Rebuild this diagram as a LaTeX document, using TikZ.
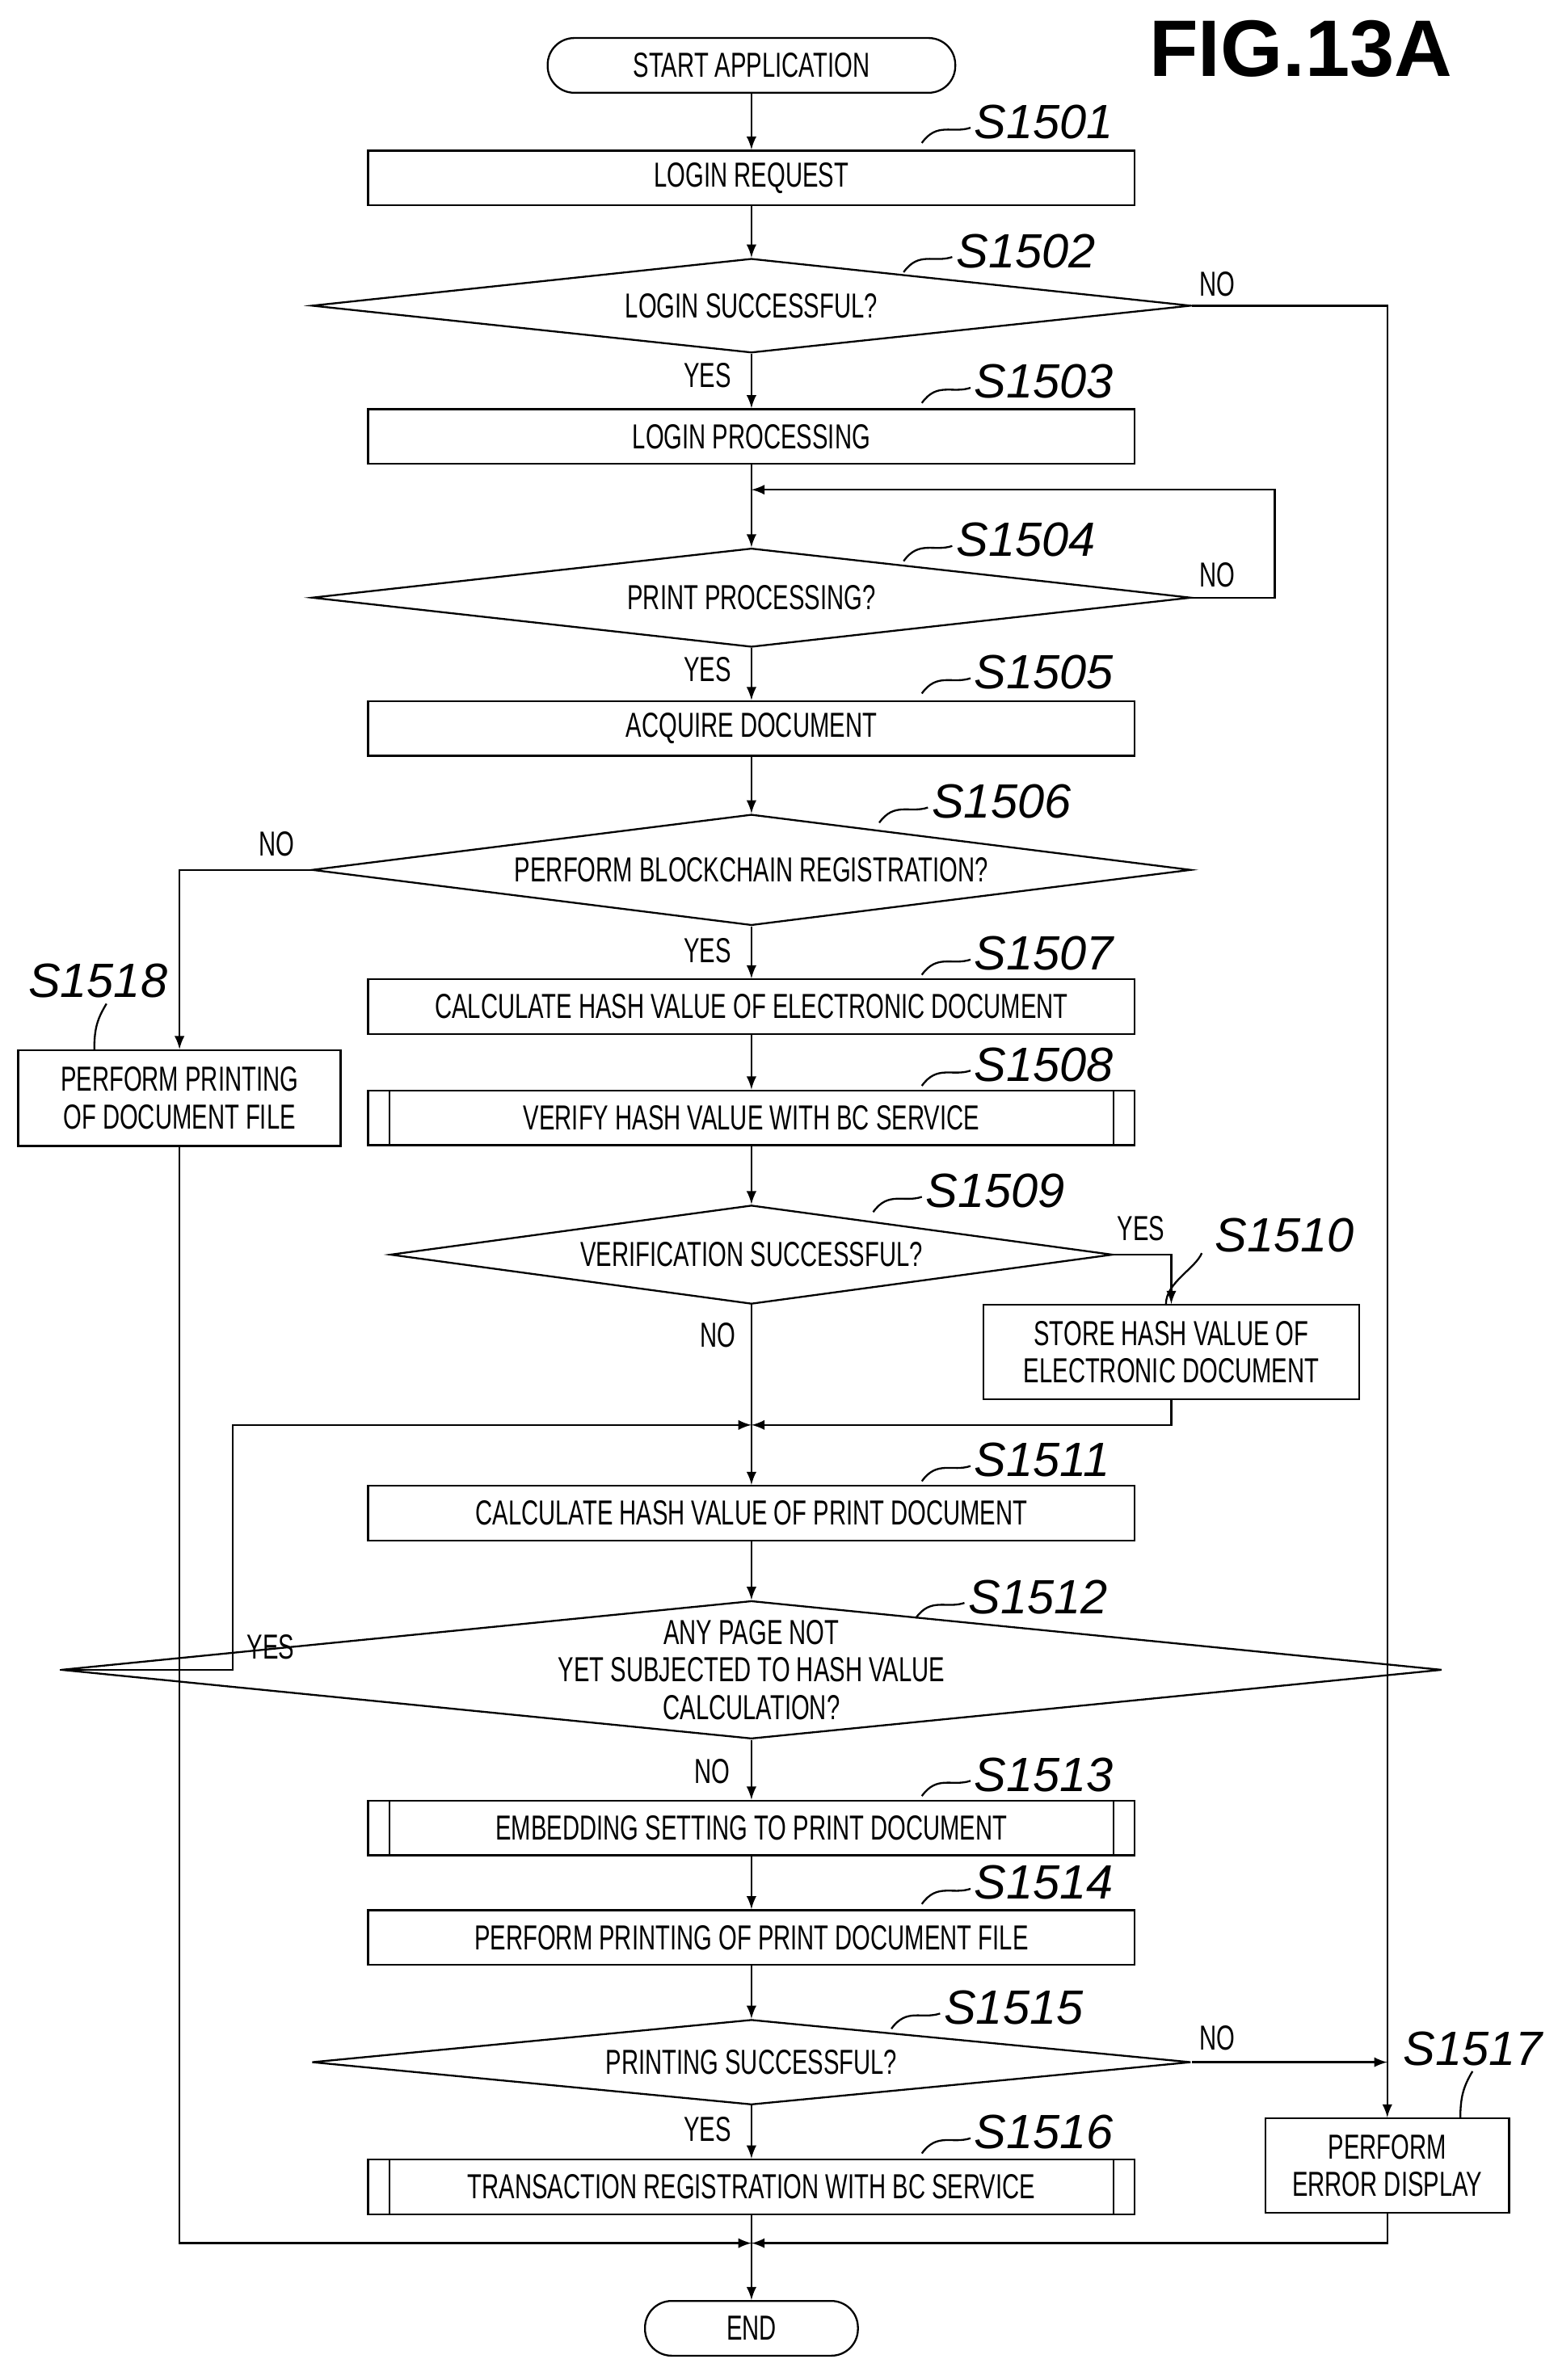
\documentclass[tikz,border=0pt]{standalone}
\usepackage{fontspec}
\setmainfont{Liberation Sans}[FakeStretch=0.68]
\newfontfamily\lblfont{Liberation Sans}
\usetikzlibrary{shapes.geometric}

\tikzstyle{every node} = [font=\fontsize{13}{14}\selectfont]
\tikzstyle{term}  = [draw,rounded corners=0.35cm,minimum height=0.72cm,inner sep=0]
\tikzstyle{box}   = [draw,minimum width=10.08cm,minimum height=0.72cm,inner sep=0,align=center]
\tikzstyle{pbox}  = [box,path picture={
                      \draw ([xshift=0.28cm]path picture bounding box.north west) -- ([xshift=0.28cm]path picture bounding box.south west);
                      \draw ([xshift=-0.28cm]path picture bounding box.north east) -- ([xshift=-0.28cm]path picture bounding box.south east);}]
\tikzstyle{dec}   = [draw,diamond,aspect=10,inner sep=0,align=center]
\tikzstyle{lbl}   = [font=\lblfont\itshape\fontsize{18}{18}\selectfont,inner sep=0]
\tikzstyle{yn}    = [inner sep=0]

\newcommand{\steplabel}[3]{%
  \node[lbl,anchor=west] (l#3) at (#1,#2) {S#3};
  \draw ([shift={(-34,14)}]l#3.west) .. controls +(10,-14) and +(-12,4) .. ([shift={(-2,4)}]l#3.west);}

\begin{document}
\begin{tikzpicture}[x=0.02cm,y=-0.02cm,line width=0.7pt]
  \useasboundingbox (0,0) rectangle (1024,1565);

  \node[font=\lblfont\bfseries\fontsize{30}{30}\selectfont] (fig) at (855,32) {FIG.13A};

  \node[term,minimum width=5.36cm] at (494,43)  (start) {START APPLICATION};
  \node[box]  at (494,117)  (s1501) {LOGIN REQUEST};
  \node[dec,minimum width=11.56cm,minimum height=1.24cm] at (494,201) (s1502) {LOGIN SUCCESSFUL?};
  \node[box]  at (494,287)  (s1503) {LOGIN PROCESSING};
  \node[dec,minimum width=11.56cm,minimum height=1.30cm] at (494,393) (s1504) {PRINT PROCESSING?};
  \node[box]  at (494,479)  (s1505) {ACQUIRE DOCUMENT};
  \node[dec,minimum width=11.56cm,minimum height=1.46cm] at (494,572) (s1506) {PERFORM BLOCKCHAIN REGISTRATION?};
  \node[box]  at (494,662)  (s1507) {CALCULATE HASH VALUE OF ELECTRONIC DOCUMENT};
  \node[pbox] at (494,735)  (s1508) {VERIFY HASH VALUE WITH BC SERVICE};
  \node[dec,minimum width=9.5cm,minimum height=1.30cm] at (494,825) (s1509) {VERIFICATION SUCCESSFUL?};
  \node[box,minimum width=4.94cm,minimum height=1.24cm] at (770,889) (s1510) {STORE HASH VALUE OF\\ELECTRONIC DOCUMENT};
  \node[box]  at (494,995)  (s1511) {CALCULATE HASH VALUE OF PRINT DOCUMENT};
  \node[dec,minimum width=11.56cm,minimum height=1.64cm] at (494,1098) (s1512) {ANY PAGE NOT\\YET SUBJECTED TO HASH VALUE\\CALCULATION?};
  \node[pbox] at (494,1202) (s1513) {EMBEDDING SETTING TO PRINT DOCUMENT};
  \node[box]  at (494,1274) (s1514) {PERFORM PRINTING OF PRINT DOCUMENT FILE};
  \node[dec,minimum width=11.56cm,minimum height=1.12cm] at (494,1356) (s1515) {PRINTING SUCCESSFUL?};
  \node[pbox] at (494,1438) (s1516) {TRANSACTION REGISTRATION WITH BC SERVICE};
  \node[box,minimum width=3.2cm,minimum height=1.24cm] at (912,1424) (s1517) {PERFORM\\ERROR DISPLAY};
  \node[box,minimum width=4.24cm,minimum height=1.26cm] at (118,722) (s1518) {PERFORM PRINTING\\OF DOCUMENT FILE};
  \node[term,minimum width=2.8cm] at (494,1531) (end) {END};

  \coordinate (j1) at (494,322);
  \coordinate (j2) at (494,937);
  \coordinate (j3) at (494,1475);

  \draw[-latex] (start) -- (s1501);
  \draw[-latex] (s1501) -- (s1502);
  \draw[-latex] (s1502) -- (s1503);
  \draw[-latex] (s1503) -- (s1504);
  \draw[-latex] (s1504.east) -- (838,393) |- (j1);
  \draw[-latex] (s1504) -- (s1505);
  \draw[-latex] (s1505) -- (s1506);
  \draw[-latex] (s1506) -- (s1507);
  \draw[-latex] (s1506.west) -| (s1518.north);
  \draw[-latex] (s1507) -- (s1508);
  \draw[-latex] (s1508) -- (s1509);
  \draw[-latex] (s1509.east) -| (s1510.north);
  \draw[-latex] (s1509) -- (s1511);
  \draw[-latex] (s1510.south) |- (j2);
  \draw[-latex] (s1512.west) -- (153,1098) |- (j2);
  \draw[-latex] (s1511) -- (s1512);
  \draw[-latex] (s1512) -- (s1513);
  \draw[-latex] (s1513) -- (s1514);
  \draw[-latex] (s1514) -- (s1515);
  \draw[-latex] (s1515) -- (s1516);
  \draw[-latex] (s1502.east) -| (s1517.north);
  \draw[-latex] (s1515.east) -- (s1517.north |- s1515.east);
  \draw[-latex] (s1516) -- (end);
  \draw[-latex] (s1518.south) |- (j3);
  \draw[-latex] (s1517.south) |- (j3);

  \node[yn] (n1) at (800,187)  {NO};
  \node[yn] (y1) at (465,247)  {YES};
  \node[yn] (n2) at (800,378)  {NO};
  \node[yn] (y2) at (465,440)  {YES};
  \node[yn] (n3) at (182,555)  {NO};
  \node[yn] (y3) at (465,625)  {YES};
  \node[yn] (y4) at (750,808)  {YES};
  \node[yn] (n4) at (472,878)  {NO};
  \node[yn] (y5) at (178,1083) {YES};
  \node[yn] (n5) at (468,1165) {NO};
  \node[yn] (n6) at (800,1340) {NO};
  \node[yn] (y6) at (465,1400) {YES};

  \steplabel{640}{80}{1501}
  \steplabel{628}{165}{1502}
  \steplabel{640}{251}{1503}
  \steplabel{628}{355}{1504}
  \steplabel{640}{442}{1505}
  \steplabel{612}{527}{1506}
  \steplabel{640}{627}{1507}
  \steplabel{640}{700}{1508}
  \steplabel{608}{783}{1509}
  \steplabel{640}{960}{1511}
  \steplabel{636}{1050}{1512}
  \steplabel{640}{1167}{1513}
  \steplabel{640}{1238}{1514}
  \steplabel{620}{1320}{1515}
  \steplabel{640}{1402}{1516}

  \node[lbl,anchor=west] (l1510) at (798,812) {S1510};
  \draw ([xshift=-2pt]s1510.north) .. controls +(0,-14) and +(-4,10) .. ([shift={(-8,12)}]l1510.west);
  \node[lbl,anchor=west] (l1517) at (922,1347) {S1517};
  \draw (960,1393) .. controls +(0,-14) and +(-6,10) .. (968,1362);
  \node[lbl,anchor=west] (l1518) at (18,645) {S1518};
  \draw (62,690) .. controls +(0,-14) and +(-6,10) .. (70,660);
\end{tikzpicture}
\end{document}
